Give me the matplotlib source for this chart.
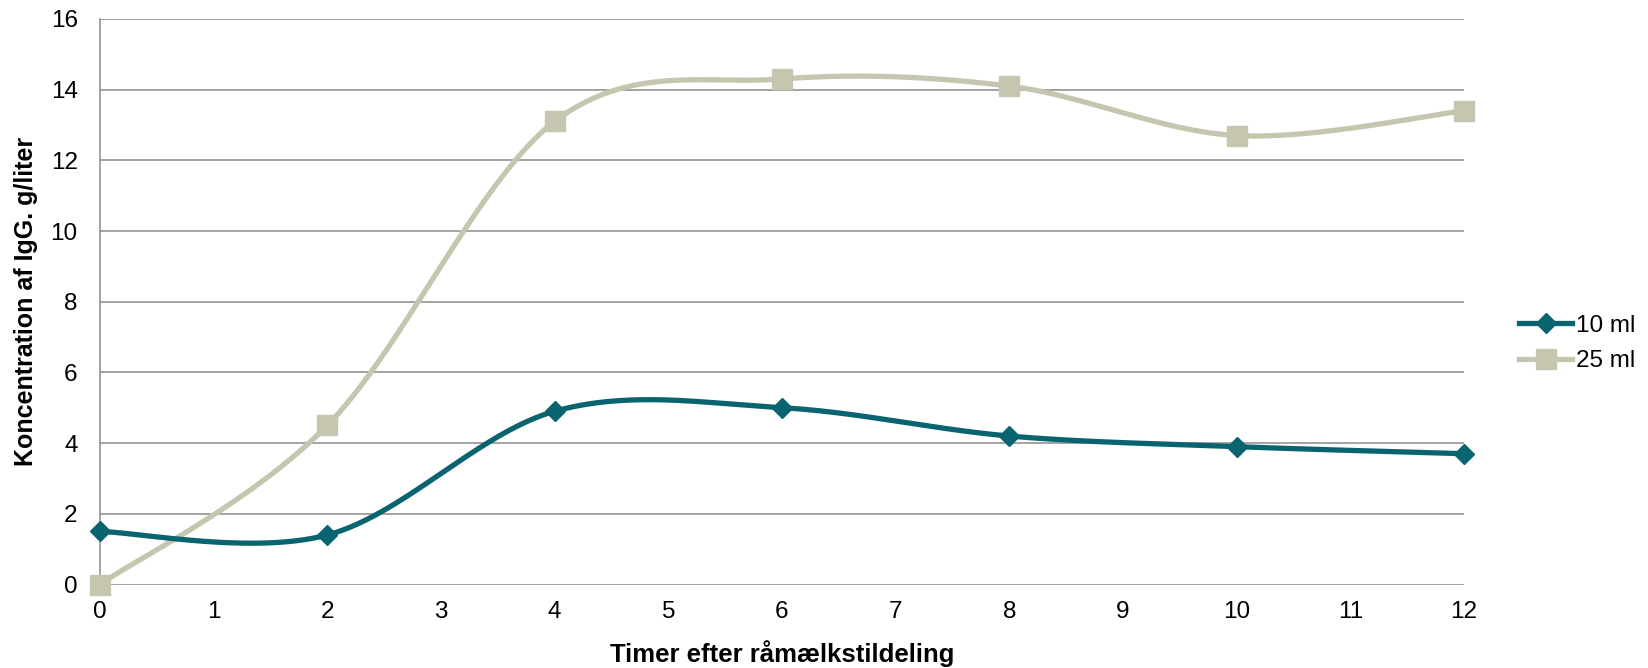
import numpy as np
import matplotlib
matplotlib.use("Agg")
import matplotlib.pyplot as plt
from matplotlib.lines import Line2D

plt.rcParams['font.family'] = ['Liberation Sans', 'DejaVu Sans']

hours = [0, 2, 4, 6, 8, 10, 12]
ml10 = [1.5, 1.4, 4.9, 5.0, 4.2, 3.9, 3.7]
ml25 = [0.0, 4.5, 13.1, 14.3, 14.1, 12.7, 13.4]
series_names = ["10 ml", "25 ml"]
xticks = list(range(0, 13))
yticks = list(range(0, 17, 2))

c10 = "#0A6470"
c25 = "#C6C6B0"
grid_c = "#8A8A8A"


def smooth(x, y, n=60):
    x = np.asarray(x, float)
    y = np.asarray(y, float)
    P = np.column_stack([x, y])
    out = []
    for i in range(len(P) - 1):
        p0 = P[i - 1] if i > 0 else P[i]
        p1 = P[i]
        p2 = P[i + 1]
        p3 = P[i + 2] if i + 2 < len(P) else P[i + 1]
        c1 = p1 + (p2 - p0) / 6.0
        c2 = p2 - (p3 - p1) / 6.0
        t = np.linspace(0, 1, n)[:, None]
        seg = ((1 - t) ** 3) * p1 + 3 * ((1 - t) ** 2) * t * c1 + 3 * (1 - t) * t ** 2 * c2 + t ** 3 * p2
        out.append(seg if i == 0 else seg[1:])
    arr = np.vstack(out)
    return arr[:, 0], arr[:, 1]


fig = plt.figure(figsize=(16.48, 6.68), dpi=100)
ax = fig.add_axes([0.0606, 0.125, 0.8278, 0.8467])

for yv in yticks:
    ax.plot([0, 12], [yv, yv], color=grid_c, lw=1.1, zorder=1, solid_capstyle='butt')

lw = 3.8
sx, sy = smooth(hours, ml25)
ax.plot(sx, sy, color=c25, lw=lw, zorder=3, solid_capstyle='round')
ax.plot(hours, ml25, linestyle='none', marker='s', ms=14.5, color=c25, zorder=4, clip_on=False)

sx, sy = smooth(hours, ml10)
ax.plot(sx, sy, color=c10, lw=lw, zorder=5, solid_capstyle='round')
ax.plot(hours, ml10, linestyle='none', marker='D', ms=10.5, color=c10, zorder=6, clip_on=False)

ax.set_xlim(0, 12)
ax.set_ylim(0, 16)
ax.set_xticks(xticks)
ax.set_yticks(yticks)
for s in ['top', 'right', 'bottom']:
    ax.spines[s].set_visible(False)
ax.spines['left'].set_color(grid_c)
ax.spines['left'].set_linewidth(1.1)
ax.tick_params(axis='both', length=0, labelsize=17.5, colors='black')
ax.tick_params(axis='x', pad=12)
ax.tick_params(axis='y', pad=16)

ax.set_xlabel("Timer efter råmælkstildeling", fontsize=18.5, fontweight='bold', labelpad=12)
ax.set_ylabel("Koncentration af IgG. g/liter", fontsize=18, fontweight='bold', labelpad=9)

handles = [
    Line2D([], [], color=c10, lw=lw, marker='D', ms=10.5),
    Line2D([], [], color=c25, lw=lw, marker='s', ms=14.5),
]
fig.legend(handles, series_names, loc='center left', bbox_to_anchor=(0.9217, 0.4855),
           frameon=False, fontsize=17.5, handlelength=2.2, handletextpad=0.15,
           labelspacing=0.55, borderpad=0, borderaxespad=0)

fig.savefig("out.png", dpi=100)
